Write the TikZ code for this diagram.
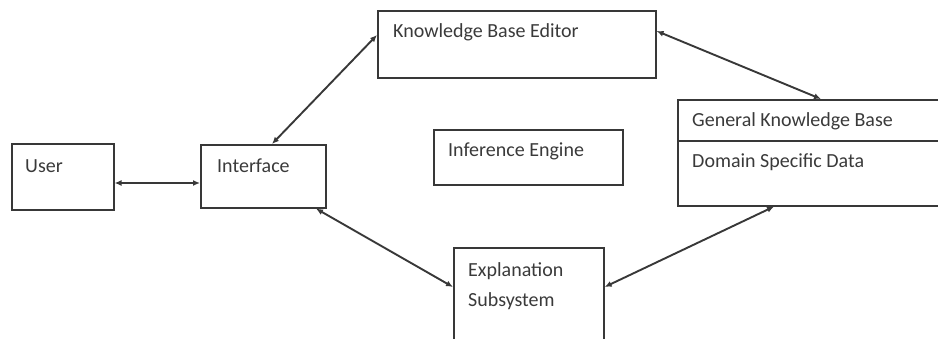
\documentclass[tikz,border=0pt]{standalone}
\usepackage{fontspec}
\setmainfont{Carlito}
\usetikzlibrary{calc,arrows.meta}
\definecolor{ink}{HTML}{383838}
\definecolor{txt}{HTML}{3A3A3A}
\tikzset{
  box/.style={draw=ink, line width=1.6pt, fill=none, inner sep=0pt, anchor=north west},
  lbl/.style={anchor=base west, inner sep=0pt, text=txt, font=\fontsize{20}{23}\selectfont},
  conn/.style={draw=ink, line width=1.9pt, {Latex[length=7pt,width=6pt]}-{Latex[length=7pt,width=6pt]}}
}
\begin{document}
\begin{tikzpicture}[x=1pt, y=-1pt]
  \useasboundingbox (0,0) rectangle (938,339);
  \clip (0,0) rectangle (938,339);
  % boxes
  \node[box, minimum width=102pt, minimum height=66pt] (user) at (11,143) {};
  \node[box, minimum width=125pt, minimum height=63pt] (iface) at (200,144) {};
  \node[box, minimum width=278pt, minimum height=67pt] (kbe) at (377,10) {};
  \node[box, minimum width=189pt, minimum height=55pt] (inf) at (433,129) {};
  \node[box, minimum width=270pt, minimum height=106pt] (kb) at (677,99) {};
  \draw[draw=ink, line width=1.6pt] (kb.north west |- 0,141) -- (kb.north east |- 0,141);
  \node[box, minimum width=150pt, minimum height=100pt] (expl) at (453,247) {};
  % labels
  \node[lbl] at (25,173) {User};
  \node[lbl] at (217,173) {Interface};
  \node[lbl] at (393,38) {Knowledge Base Editor};
  \node[lbl] at (448,157) {Inference Engine};
  \node[lbl] at (692,127) {General Knowledge Base};
  \node[lbl] at (692,168) {Domain Specific Data};
  \node[lbl] at (468,277) {Explanation};
  \node[lbl] at (468,307) {Subsystem};
  % connectors
  \draw[conn] (user.east |- 0,183) -- (iface.west |- 0,183);
  \draw[conn] (iface.north -| 272,0) -- (kbe.west |- 0,35);
  \draw[conn] (kbe.east |- 0,31) -- (kb.north -| 821,0);
  \draw[conn] (iface.south -| 316,0) -- (expl.west |- 0,287);
  \draw[conn] (kb.south -| 774,0) -- (expl.east |- 0,287);
\end{tikzpicture}
\end{document}
